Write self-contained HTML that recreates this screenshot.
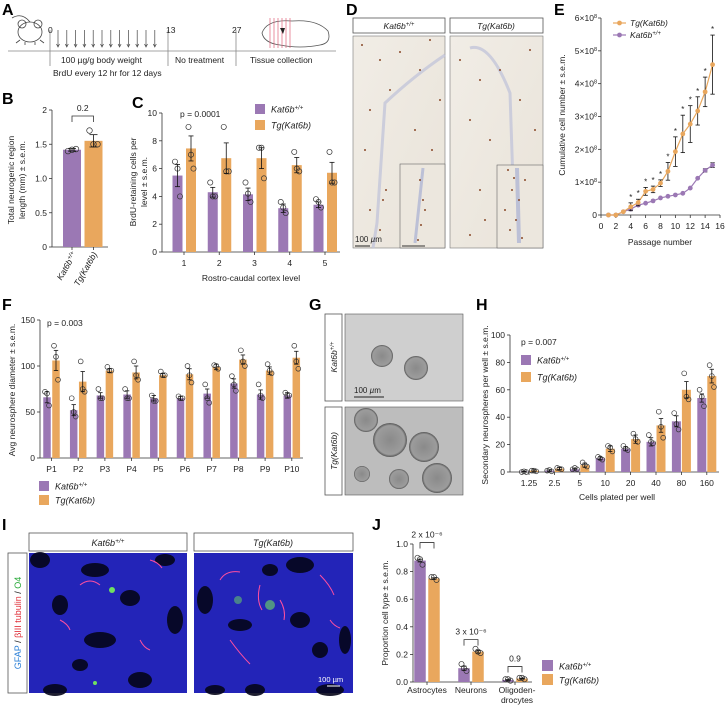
<!DOCTYPE html>
<html><head><meta charset="utf-8">
<style>
html,body{margin:0;padding:0;background:#fff;}
svg{display:block;font-family:"Liberation Sans",Arial,sans-serif;}
text{fill:#222;}
.lt{font-weight:bold;font-size:16px;fill:#000;}
.tk{font-size:8.5px;}
.ax{stroke:#333;stroke-width:0.8;fill:none;}
</style></head>
<body>
<svg id="fig" width="726" height="707" viewBox="0 0 726 707" xmlns="http://www.w3.org/2000/svg">
<defs>
<linearGradient id="gD" x1="0" y1="0" x2="1" y2="1"><stop offset="0" stop-color="#f1ede6"/><stop offset="1" stop-color="#e9e3d9"/></linearGradient>
<radialGradient id="sph"><stop offset="0" stop-color="#8a8a8a"/><stop offset="0.85" stop-color="#9c9c9c"/><stop offset="1" stop-color="#555"/></radialGradient>
</defs>
<text class="lt" x="2" y="15">A</text>
<text class="lt" x="2" y="104">B</text>
<text class="lt" x="132" y="108">C</text>
<text class="lt" x="346" y="15">D</text>
<text class="lt" x="554" y="15">E</text>
<text class="lt" x="2" y="310">F</text>
<text class="lt" x="309" y="310">G</text>
<text class="lt" x="476" y="310">H</text>
<text class="lt" x="2" y="530">I</text>
<text class="lt" x="372" y="530">J</text>

<g>
  <g fill="none" stroke="#444" stroke-width="0.8">
    <ellipse cx="30" cy="32" rx="12" ry="10"/>
    <circle cx="22" cy="24" r="4"/><circle cx="38" cy="24" r="4"/>
    <path d="M20 40 l-4 3 M40 40 l4 3 M25 42 l0 3 M35 42 l0 3 M30 22 q-8 -10 -18 -4"/>
  </g>
  <line x1="8" y1="51" x2="336" y2="51" stroke="#888" stroke-width="0.8"/>
  <line x1="50" y1="30" x2="50" y2="66" stroke="#888" stroke-width="0.8"/>
  <line x1="168" y1="30" x2="168" y2="66" stroke="#888" stroke-width="0.8"/>
  <line x1="236" y1="30" x2="236" y2="66" stroke="#888" stroke-width="0.8"/>
  <g id="arrows" stroke="#444" stroke-width="0.7"></g>
  <text class="tk" x="48" y="33">0</text>
  <text class="tk" x="166" y="33">13</text>
  <text class="tk" x="232" y="33">27</text>
  <text class="tk" x="61" y="63">100 µg/g body weight</text>
  <text class="tk" x="53" y="76">BrdU every 12 hr for 12 days</text>
  <text class="tk" x="175" y="63">No treatment</text>
  <text class="tk" x="250" y="63">Tissue collection</text>
  <g>
    <path d="M262 33 q5 -14 30 -12 q25 -2 36 10 q4 12 -8 14 q-20 4 -40 0 q-16 -2 -18 -12z" fill="none" stroke="#555" stroke-width="0.8"/>
    <g stroke="#e0607a" stroke-width="0.7"><line x1="270" y1="18" x2="270" y2="48"/><line x1="274" y1="18" x2="274" y2="48"/><line x1="278" y1="18" x2="278" y2="48"/><line x1="282" y1="18" x2="282" y2="48"/><line x1="286" y1="18" x2="286" y2="48"/><line x1="290" y1="18" x2="290" y2="48"/></g>
    <path d="M280 28 l5 0 l-2 6z" fill="#222"/>
  </g>
</g>

<g>
  <rect x="353" y="18" width="92" height="15" fill="#fff" stroke="#555" stroke-width="0.8"/>
  <text x="399" y="29" text-anchor="middle" font-size="8.5" font-style="italic">Kat6b<tspan font-size="6" dy="-3">+/+</tspan></text>
  <rect x="450" y="18" width="93" height="15" fill="#fff" stroke="#555" stroke-width="0.8"/>
  <text x="496" y="29" text-anchor="middle" font-size="8.5" font-style="italic">Tg(Kat6b)</text>
  <rect x="353" y="36" width="92" height="212" fill="url(#gD)" stroke="#777" stroke-width="0.6"/>
  <rect x="450" y="36" width="93" height="212" fill="url(#gD)" stroke="#777" stroke-width="0.6"/>
  <path d="M445 55 q-30 20 -60 48 l-8 120 l-4 25" stroke="#c3c6da" stroke-width="3" fill="none" opacity="0.8"/>
  <path d="M470 48 q20 -6 40 45 l5 150" stroke="#c3c6da" stroke-width="3" fill="none" opacity="0.8"/>
  <rect x="400" y="164" width="45" height="84" fill="#ece7de" stroke="#666" stroke-width="0.6"/>
  <rect x="497" y="165" width="46" height="83" fill="#ece7de" stroke="#666" stroke-width="0.6"/>
  <path d="M423 168 l-8 75" stroke="#bcc0d6" stroke-width="3"/><path d="M517 168 l2 75" stroke="#bcc0d6" stroke-width="4"/>
  <g id="ddots" fill="#8a4a2a"></g>
  <text x="355" y="242" font-size="8">100 <tspan font-style="italic">µ</tspan>m</text>
  <line x1="355" y1="246" x2="370" y2="246" stroke="#222"/>
  <line x1="402" y1="246" x2="425" y2="246" stroke="#333"/>
</g>

<g>
  <rect x="325" y="314" width="17" height="87" fill="#fff" stroke="#555" stroke-width="0.8"/>
  <text transform="translate(337,357) rotate(-90)" text-anchor="middle" font-size="8.5" font-style="italic">Kat6b<tspan font-size="6" dy="-3">+/+</tspan></text>
  <rect x="325" y="407" width="17" height="88" fill="#fff" stroke="#555" stroke-width="0.8"/>
  <text transform="translate(337,451) rotate(-90)" text-anchor="middle" font-size="8.5" font-style="italic">Tg(Kat6b)</text>
  <rect x="345" y="314" width="118" height="87" fill="#cfcfcf" stroke="#555" stroke-width="0.6"/>
  <rect x="345" y="407" width="118" height="88" fill="#bdbdbd" stroke="#555" stroke-width="0.6"/>
  <circle cx="382" cy="356" r="11" fill="url(#sph)"/><circle cx="416" cy="368" r="12" fill="url(#sph)"/>
  <circle cx="366" cy="420" r="12" fill="url(#sph)"/><circle cx="390" cy="440" r="17" fill="url(#sph)"/>
  <circle cx="424" cy="447" r="15" fill="url(#sph)"/><circle cx="437" cy="478" r="15" fill="url(#sph)"/>
  <circle cx="362" cy="474" r="8" fill="url(#sph)"/><circle cx="399" cy="479" r="10" fill="url(#sph)"/>
  <text x="354" y="393" font-size="8">100 <tspan font-style="italic">µ</tspan>m</text>
  <line x1="354" y1="397" x2="384" y2="397" stroke="#222"/>
</g>

<g>
  <rect x="29" y="533" width="158" height="18" fill="#fff" stroke="#555" stroke-width="0.8"/>
  <text x="108" y="546" text-anchor="middle" font-size="9" font-style="italic">Kat6b<tspan font-size="6.5" dy="-3">+/+</tspan></text>
  <rect x="194" y="533" width="159" height="18" fill="#fff" stroke="#555" stroke-width="0.8"/>
  <text x="273" y="546" text-anchor="middle" font-size="9" font-style="italic">Tg(Kat6b)</text>
  <rect x="8" y="553" width="19" height="140" fill="#fff" stroke="#555" stroke-width="0.8"/>
  <text transform="translate(21,623) rotate(-90)" text-anchor="middle" font-size="9"><tspan fill="#2a7fd6">GFAP</tspan> / <tspan fill="#e0303a">βIII tubulin</tspan> / <tspan fill="#2aaa3a">O4</tspan></text>
  <rect x="29" y="553" width="158" height="140" fill="#2324b8"/>
  <rect x="194" y="553" width="159" height="140" fill="#2324b8"/>
  <g id="idark" fill="#05051a" opacity="0.9"></g>
  <g stroke="#ff4fa0" stroke-width="1" fill="none">
    <path d="M80 585 q10 -8 20 0"/><path d="M150 560 q8 2 12 8"/><path d="M60 620 q8 4 10 10"/><path d="M140 640 q4 8 10 10"/>
    <path d="M220 580 q6 -10 20 -8"/><path d="M260 585 q-4 15 2 25"/><path d="M320 575 q10 10 14 20"/><path d="M230 640 q10 14 20 24"/><path d="M280 600 q6 10 4 20"/><path d="M330 620 q4 6 10 8"/>
  </g>
  <g fill="#6fe060"><circle cx="112" cy="590" r="3"/><circle cx="270" cy="605" r="5" opacity="0.6"/><circle cx="238" cy="600" r="4" opacity="0.5"/><circle cx="95" cy="683" r="2"/></g>
  <text x="318" y="682" font-size="7.5" style="fill:#fff">100 µm</text>
  <line x1="327" y1="686" x2="340" y2="686" stroke="#fff"/>
</g>

<g id="charts"></g>
</svg>

<script>
const bCats = ["Kat6b+/+","Tg(Kat6b)"];
const bMeans = [1.42, 1.55];
const bErr = [0.02, 0.09];
const bDots = [[1.40,1.42,1.43],[1.70,1.50,1.50]];

const cCats = ["1","2","3","4","5"];
const cWt = [5.5,4.3,4.15,3.15,3.4];
const cTg = [7.45,6.75,6.75,6.25,5.7];
const cWtErr = [0.8,0.35,0.45,0.3,0.2];
const cTgErr = [0.9,1.1,0.75,0.55,0.75];
const cWtDots = [[6.5,6,4],[5,4,4],[5,4.2,3.6],[3.6,3.2,2.8],[3.8,3.6,3.2]];
const cTgDots = [[9,7,6],[9,5.8,5.8],[7.5,7.5,5.3],[7.2,6,5.8],[7.2,5,5]];

const ePass = [1,2,3,4,5,6,7,8,9,10,11,12,13,14,15];
const eTg = [0,0,0.1,0.25,0.38,0.72,0.78,0.97,1.33,1.93,2.47,2.77,3.17,3.75,4.58];
const eTgErr = [0,0,0,0.12,0.1,0.12,0.1,0.1,0.27,0.45,0.57,0.56,0.43,0.45,0.9];
const eWt = [0,0,0.1,0.18,0.3,0.36,0.43,0.52,0.57,0.61,0.66,0.82,1.12,1.36,1.52];
const eWtErr = [0,0,0,0,0,0,0,0,0,0,0,0,0,0.05,0.07];
const eStars = [4,5,6,7,8,9,10,11,12,13,14,15];

const fCats = ["P1","P2","P3","P4","P5","P6","P7","P8","P9","P10"];
const fWt = [66,52,68,69,65,65,70,81,69,68];
const fTg = [106,83,95,93,90,91,99,107,95,109];
const fWtErr = [6,6,3,4,3,2,5,5,5,3];
const fTgErr = [11,11,2,7,2,6,3,5,4,7];
const fWtDots = [[72,70,57],[65,50,45],[75,65,65],[75,65,65],[68,62,62],[67,65,65],[80,65,60],[89,80,73],[80,68,65],[71,68,68]];
const fTgDots = [[122,110,85],[105,75,72],[99,95,95],[105,90,85],[94,90,90],[100,90,82],[101,100,97],[117,105,100],[102,95,92],[122,105,97]];

const hCats = ["1.25","2.5","5","10","20","40","80","160"];
const hWt = [0.3,1,2,10,17,22,37,54];
const hTg = [1,2.5,5,17,24,34,60,70];
const hWtErr = [0.3,0.5,0.5,1,1.5,3,4,3];
const hTgErr = [0.5,0.8,1.5,2,3,5,6,5];
const hWtDots = [[0,0.5,0],[1,1.5,0.5],[2,3,2],[11,10,9],[19,17,16],[27,22,21],[43,35,31],[60,55,48]];
const hTgDots = [[1,1,0.5],[3,2.5,2],[7,5,4],[19,18,15],[28,24,22],[44,33,25],[72,55,53],[78,70,62]];

const jCats = ["Astrocytes","Neurons","Oligoden-|drocytes"];
const jWt = [0.88,0.10,0.015];
const jTg = [0.75,0.22,0.025];
const jWtErr = [0.01,0.015,0.003];
const jTgErr = [0.005,0.01,0.003];
const jWtDots = [[0.9,0.89,0.85],[0.13,0.10,0.08],[0.02,0.02,0.01]];
const jTgDots = [[0.76,0.76,0.74],[0.24,0.22,0.21],[0.03,0.03,0.02]];
const jPvals = ["2 x 10⁻⁶","3 x 10⁻⁶","0.9"];

const NS = "http://www.w3.org/2000/svg";
const PUR = "#9b78b4", ORA = "#e9a75d";
const root = document.getElementById("charts");
function mk(tag, attrs, parent){
  const e = document.createElementNS(NS, tag);
  for (const k in attrs) e.setAttribute(k, attrs[k]);
  (parent||root).appendChild(e);
  return e;
}
function txt(x,y,s,opts,parent){
  const e = mk("text", Object.assign({x:x,y:y,"font-size":8.5}, opts||{}), parent);
  e.textContent = s;
  return e;
}
function linY(v0,v1,p0,p1){ return v => p0 + (v-v0)*(p1-p0)/(v1-v0); }
function yAxis(g, x, y, ticks, fmt){
  mk("line",{x1:x,y1:y(ticks[0]),x2:x,y2:y(ticks[ticks.length-1]),class:"ax"},g);
  ticks.forEach(t=>{
    mk("line",{x1:x-3,y1:y(t),x2:x,y2:y(t),class:"ax"},g);
    txt(x-5,y(t)+3,fmt(t),{"text-anchor":"end"},g);
  });
}
function errbar(g,cx,yTop,yBot,w){
  mk("line",{x1:cx,y1:yTop,x2:cx,y2:yBot,stroke:"#111","stroke-width":0.8},g);
  mk("line",{x1:cx-w,y1:yTop,x2:cx+w,y2:yTop,stroke:"#111","stroke-width":0.8},g);
  mk("line",{x1:cx-w,y1:yBot,x2:cx+w,y2:yBot,stroke:"#111","stroke-width":0.8},g);
}
function dots(g,cx,vals,y,r,spread){
  vals.forEach((v,i)=>{
    const c = mk("circle",{cx:cx+(i-1)*spread,cy:y(v),r:r,fill:"none",stroke:"#333","stroke-width":0.7},g);
    
    
  });
}
function groupedBars(g, cats, xc, w, off, y, series){
  series.forEach(s=>{
    cats.forEach((c,i)=>{
      const cx = xc(i)+s.off;
      const r = mk("rect",{x:cx-w/2,y:y(s.vals[i]),width:w,height:y(0)-y(s.vals[i]),fill:s.col},g);
      
      
      if (s.dots) dots(g,cx,s.dots[i],y,s.r||2.6,s.spread||2.5);
      errbar(g,cx,y(s.vals[i]+s.err[i]),y(Math.max(0,s.vals[i]-s.err[i])),s.ew||2.5);
    });
  });
}
function legendSq(g,x,y,col,label,sup,size){
  const r = mk("rect",{x:x,y:y,width:size||10,height:size||10,fill:col},g);
  
  
  const t = txt(x+(size||10)+6,y+(size||10)-1.5,label,{"font-style":"italic","font-size":9},g);
  if (sup){ const s=mk("tspan",{"font-size":6,dy:-3},t); s.textContent=sup; }
  return t;
}

(function(){
  const ga = document.getElementById("arrows");
  for (let i=0;i<12;i++){
    const x = 58 + i*8.8;
    mk("line",{x1:x,y1:30,x2:x,y2:46},ga);
    mk("path",{d:`M${x-1.5} 44 L${x} 47 L${x+1.5} 44`,fill:"none"},ga);
  }
  const dd = document.getElementById("ddots");
  const pts=[[362,45],[380,60],[400,52],[430,40],[420,70],[390,90],[370,110],[440,100],[415,130],[365,150],[432,150],[386,190],[370,210],[380,230],[383,200],[460,60],[480,80],[500,70],[530,50],[520,100],[470,120],[490,140],[535,130],[508,170],[512,190],[505,210],[510,230],[519,200],[525,180],[480,190],[485,220],[470,235],[420,180],[423,200],[421,225],[418,240],[425,210],[516,220],[522,238],[514,178]];
  pts.forEach(p=>mk("circle",{cx:p[0],cy:p[1],r:1,fill:"#8a4a2a"},dd));
  const ib = document.getElementById("idark");
  const bl=[[40,560,10,8],[95,570,14,7],[60,605,8,10],[130,598,10,8],[100,640,16,8],[55,690,12,6],[175,620,8,14],[140,680,12,8],[80,665,8,6],[165,560,10,6],
    [205,600,8,14],[240,625,12,6],[300,565,14,8],[330,690,14,6],[255,690,10,6],[345,640,6,14],[300,620,10,8],[215,690,10,5],[270,570,8,6],[320,650,8,8]];
  bl.forEach(b=>mk("ellipse",{cx:b[0],cy:b[1],rx:b[2],ry:b[3]},ib));
})();

(function(){
  const g = mk("g",{});
  
  
  const y = linY(0,2,247,110);
  yAxis(g,52,y,[0,0.5,1,1.5,2],t=>t===0||t===2?String(t):t.toFixed(1));
  mk("line",{x1:52,y1:247,x2:108,y2:247,class:"ax"},g);
  const xc = i=>72+i*21.5;
  const cols=[PUR,ORA];
  bCats.forEach((c,i)=>{
    const r = mk("rect",{x:xc(i)-9,y:y(bMeans[i]),width:18,height:247-y(bMeans[i]),fill:cols[i]},g);
    
    
    dots(g,xc(i),bDots[i],y,2.8,4);
    errbar(g,xc(i),y(bMeans[i]+bErr[i]),y(bMeans[i]-bErr[i]),4);
    mk("line",{x1:xc(i),y1:247,x2:xc(i),y2:250,class:"ax"},g);
  });
  mk("path",{d:`M${xc(0)} 122 L${xc(0)} 116 L${xc(1)} 116 L${xc(1)} 122`,fill:"none",stroke:"#333","stroke-width":0.8},g);
  txt((xc(0)+xc(1))/2,111,"0.2",{"text-anchor":"middle"},g);
  const t1 = txt(0,0,"Kat6b",{"font-style":"italic",transform:`translate(${xc(0)+5},254) rotate(-60)`,"text-anchor":"end"},g);
  const s1 = mk("tspan",{"font-size":6,dy:-3},t1); s1.textContent="+/+";
  txt(0,0,"Tg(Kat6b)",{"font-style":"italic",transform:`translate(${xc(1)+4},254) rotate(-60)`,"text-anchor":"end"},g);
  txt(0,0,"Total neurogenic region",{transform:"translate(14,180) rotate(-90)","text-anchor":"middle"},g);
  txt(0,0,"length (mm) ± s.e.m.",{transform:"translate(25,180) rotate(-90)","text-anchor":"middle"},g);
})();

(function(){
  const g = mk("g",{});
  
  
  const y = linY(0,10,252,113);
  yAxis(g,162,y,[0,2,4,6,8,10],String);
  mk("line",{x1:162,y1:252,x2:340,y2:252,class:"ax"},g);
  const xc = i=>184+i*35.25;
  groupedBars(g,cCats,xc,10,0,y,[
    {key:"wt",vals:cWt,err:cWtErr,dots:cWtDots,off:-6.5,col:PUR},
    {key:"tg",vals:cTg,err:cTgErr,dots:cTgDots,off:7,col:ORA}]);
  cCats.forEach((c,i)=>{ mk("line",{x1:xc(i),y1:252,x2:xc(i),y2:255,class:"ax"},g); txt(xc(i),266,c,{"text-anchor":"middle"},g); });
  txt(251,281,"Rostro-caudal cortex level",{"text-anchor":"middle"},g);
  txt(180,117,"p = 0.0001",{},g);
  legendSq(g,255,104,PUR,"Kat6b","+/+");
  legendSq(g,255,120,ORA,"Tg(Kat6b)");
  txt(0,0,"BrdU-retaining cells per",{transform:"translate(136,182) rotate(-90)","text-anchor":"middle"},g);
  txt(0,0,"level ± s.e.m.",{transform:"translate(147,182) rotate(-90)","text-anchor":"middle"},g);
})();

(function(){
  const g = mk("g",{});
  
  
  const y = linY(0,6,215,18);
  const x = linY(0,16,601,720);
  mk("line",{x1:601,y1:215,x2:601,y2:18,class:"ax"},g);
  [0,1,2,3,4,5,6].forEach(t=>{
    mk("line",{x1:598,y1:y(t),x2:601,y2:y(t),class:"ax"},g);
    const tt = txt(597,y(t)+3,t===0?"0":t+"×10",{"text-anchor":"end"},g);
    if(t){ const s=mk("tspan",{"font-size":5.5,dy:-3},tt); s.textContent="8"; }
  });
  mk("line",{x1:601,y1:215,x2:720,y2:215,class:"ax"},g);
  [0,2,4,6,8,10,12,14,16].forEach(t=>{
    mk("line",{x1:x(t),y1:215,x2:x(t),y2:218,class:"ax"},g);
    txt(x(t),229,String(t),{"text-anchor":"middle"},g);
  });
  txt(660,245,"Passage number",{"text-anchor":"middle"},g);
  txt(0,0,"Cumulative cell number  ± s.e.m.",{transform:"translate(565,115) rotate(-90)","text-anchor":"middle"},g);
  [[eWt,eWtErr,PUR,"wt"],[eTg,eTgErr,ORA,"tg"]].forEach(s=>{
    const line = mk("polyline",{points:ePass.map((p,i)=>x(p)+","+y(s[0][i])).join(" "),fill:"none",stroke:s[2],"stroke-width":1.2},g);
    
    
    ePass.forEach((p,i)=>{
      if (s[1][i]>0) errbar(g,x(p),y(s[0][i]+s[1][i]),y(s[0][i]-s[1][i]),2.2);
      const c = mk("circle",{cx:x(p),cy:y(s[0][i]),r:2.4,fill:s[2]},g);
      
      
    });
  });
  eStars.forEach(p=>{
    const i = ePass.indexOf(p);
    txt(x(p),y(eTg[i]+eTgErr[i])-3,"*",{"text-anchor":"middle","font-size":8},g);
  });
  mk("line",{x1:613,y1:23,x2:626,y2:23,stroke:ORA,"stroke-width":1.2},g);
  mk("circle",{cx:619.5,cy:23,r:2.4,fill:ORA},g);
  txt(630,26,"Tg(Kat6b)",{"font-style":"italic","font-size":8.5},g);
  mk("line",{x1:613,y1:35,x2:626,y2:35,stroke:PUR,"stroke-width":1.2},g);
  mk("circle",{cx:619.5,cy:35,r:2.4,fill:PUR},g);
  const lt = txt(630,38,"Kat6b",{"font-style":"italic","font-size":8.5},g);
  const ls = mk("tspan",{"font-size":6,dy:-3},lt); ls.textContent="+/+";
})();

(function(){
  const g = mk("g",{});
  
  
  const y = linY(0,150,458,320);
  yAxis(g,40,y,[0,50,100,150],String);
  mk("line",{x1:40,y1:458,x2:303,y2:458,class:"ax"},g);
  const xc = i=>51.5+i*26.7;
  groupedBars(g,fCats,xc,7.5,0,y,[
    {key:"wt",vals:fWt,err:fWtErr,dots:fWtDots,off:-4.5,col:PUR,r:2.4,spread:2,ew:2.2},
    {key:"tg",vals:fTg,err:fTgErr,dots:fTgDots,off:4.5,col:ORA,r:2.4,spread:2,ew:2.2}]);
  fCats.forEach((c,i)=>{ mk("line",{x1:xc(i),y1:458,x2:xc(i),y2:461,class:"ax"},g); txt(xc(i),472,c,{"text-anchor":"middle"},g); });
  txt(47,326,"p = 0.003",{},g);
  legendSq(g,39,481,PUR,"Kat6b","+/+");
  legendSq(g,39,495,ORA,"Tg(Kat6b)");
  txt(0,0,"Avg neurosphere diameter ± s.e.m.",{transform:"translate(15,390) rotate(-90)","text-anchor":"middle"},g);
})();

(function(){
  const g = mk("g",{});
  
  
  const y = linY(0,100,472,335);
  yAxis(g,510,y,[0,20,40,60,80,100],String);
  mk("line",{x1:510,y1:472,x2:719,y2:472,class:"ax"},g);
  const xc = i=>529+i*25.4;
  groupedBars(g,hCats,xc,9,0,y,[
    {key:"wt",vals:hWt,err:hWtErr,dots:hWtDots,off:-5,col:PUR,r:2.4,spread:2.2,ew:2.2},
    {key:"tg",vals:hTg,err:hTgErr,dots:hTgDots,off:5,col:ORA,r:2.4,spread:2.2,ew:2.2}]);
  hCats.forEach((c,i)=>{ mk("line",{x1:xc(i),y1:472,x2:xc(i),y2:475,class:"ax"},g); txt(xc(i),486,c,{"text-anchor":"middle"},g); });
  txt(617,500,"Cells plated per well",{"text-anchor":"middle"},g);
  txt(521,345,"p = 0.007",{},g);
  legendSq(g,521,355,PUR,"Kat6b","+/+");
  legendSq(g,521,372,ORA,"Tg(Kat6b)");
  txt(0,0,"Secondary neurospheres per well ± s.e.m.",{transform:"translate(488,405) rotate(-90)","text-anchor":"middle"},g);
})();

(function(){
  const g = mk("g",{});
  
  
  const y = linY(0,1,682,544);
  yAxis(g,413,y,[0,0.2,0.4,0.6,0.8,1.0],t=>t.toFixed(1));
  mk("line",{x1:413,y1:682,x2:532,y2:682,class:"ax"},g);
  const xc = i=>427+i*44;
  groupedBars(g,jCats,xc,11.5,0,y,[
    {key:"wt",vals:jWt,err:jWtErr,dots:jWtDots,off:-7,col:PUR,r:2.6,spread:2.5,ew:2.5},
    {key:"tg",vals:jTg,err:jTgErr,dots:jTgDots,off:7,col:ORA,r:2.6,spread:2.5,ew:2.5}]);
  jCats.forEach((c,i)=>{
    mk("line",{x1:xc(i),y1:682,x2:xc(i),y2:685,class:"ax"},g);
    c.split("|").forEach((part,k)=>txt(xc(i)+(i===2?2:0),693+k*10,part,{"text-anchor":"middle"},g));
    const top = Math.max(jWt[i],jTg[i]);
    const by = y(top)-12-(i===0?6:0);
    mk("path",{d:`M${xc(i)-7} ${by+6} L${xc(i)-7} ${by} L${xc(i)+7} ${by} L${xc(i)+7} ${by+6}`,fill:"none",stroke:"#333","stroke-width":0.8},g);
    txt(xc(i),by-5,jPvals[i],{"text-anchor":"middle"},g);
  });
  legendSq(g,542,660,PUR,"Kat6b","+/+",11);
  legendSq(g,542,674,ORA,"Tg(Kat6b)",null,11);
  txt(0,0,"Proportion cell type ± s.e.m.",{transform:"translate(388,613) rotate(-90)","text-anchor":"middle"},g);
})();
</script>
</body></html>
